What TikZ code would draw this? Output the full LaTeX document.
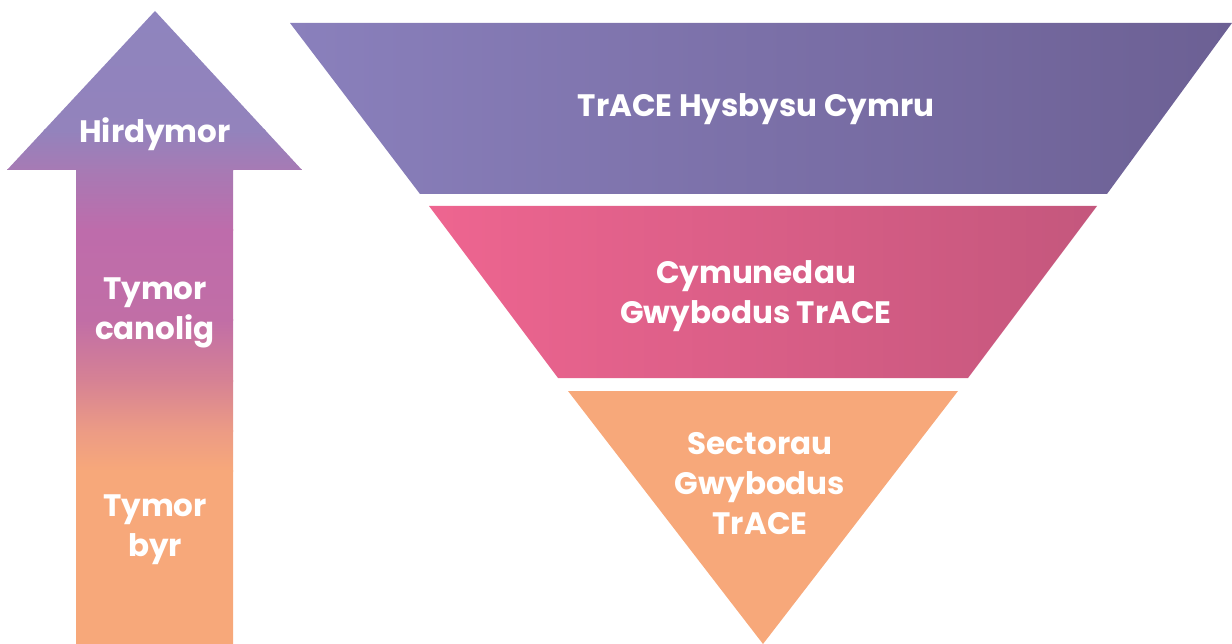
\documentclass[tikz,border=0pt]{standalone}
\usepackage{fontspec}
\setmainfont{Poppins}
\begin{document}
\begin{tikzpicture}[x=1pt,y=-1pt,
  lab/.style={text=white,font=\fontsize{31}{40}\selectfont\bfseries,align=center,inner sep=0pt}]
\definecolor{aP}{HTML}{8E84BE}
\definecolor{aP2}{HTML}{9383BC}
\definecolor{aM}{HTML}{A77AB4}
\definecolor{aM2}{HTML}{BE6CAB}
\definecolor{aM3}{HTML}{C16EA6}
\definecolor{aR}{HTML}{D68294}
\definecolor{aR2}{HTML}{EC9B85}
\definecolor{aO}{HTML}{F7A87A}
\definecolor{tL}{HTML}{8A80BC}
\definecolor{tR}{HTML}{6C6094}
\definecolor{mL}{HTML}{EE6590}
\definecolor{mR}{HTML}{C4577D}
\definecolor{bO}{HTML}{F7A87A}
\useasboundingbox (0,0) rectangle (1232,644);
% arrow
\begin{scope}
\clip (155,11) -- (302,170) -- (233,170) -- (233,644) -- (76,644) -- (76,170) -- (7,170) -- cycle;
\shade[top color=aP,bottom color=aP2] (0,0) rectangle (310,131);
\shade[top color=aP2,bottom color=aM] (0,130) rectangle (310,171);
\shade[top color=aM,bottom color=aM2] (0,170) rectangle (310,231);
\shade[top color=aM2,bottom color=aM3] (0,230) rectangle (310,321);
\shade[top color=aM3,bottom color=aR] (0,320) rectangle (310,381);
\shade[top color=aR,bottom color=aR2] (0,380) rectangle (310,431);
\shade[top color=aR2,bottom color=aO] (0,430) rectangle (310,471);
\fill[aO] (0,470) rectangle (310,644);
\end{scope}
% funnel
\shade[left color=tL,right color=tR] (290,23) -- (1232,23) -- (1107,194) -- (420,194) -- cycle;
\shade[left color=mL,right color=mR] (429,206) -- (1097,206) -- (968,378) -- (558,378) -- cycle;
\fill[bO] (568,391) -- (958,391) -- (763,644) -- cycle;
% labels
\node[lab] (hir) at (155,134) {Hirdymor};
\node[lab] (can) at (155,313) {Tymor\\canolig};
\node[lab] (byr) at (155,530) {Tymor\\byr};
\node[lab] (top) at (756,109) {TrACE Hysbysu Cymru};
\node[lab] (mid) at (756,296) {Cymunedau\\Gwybodus TrACE};
\node[lab] (bot) at (760,484) {Sectorau\\Gwybodus\\TrACE};
\end{tikzpicture}
\end{document}
